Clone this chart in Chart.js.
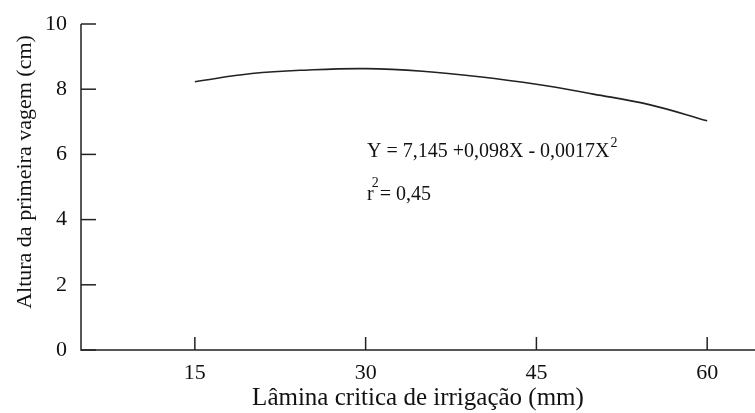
<!DOCTYPE html>
<html>
<head>
<meta charset="utf-8">
<script src="https://cdn.jsdelivr.net/npm/chart.js@4/dist/chart.umd.min.js"></script>
<style>
  html, body { margin: 0; padding: 0; background: #fff; }
  #wrap { width: 755px; height: 413px; }
</style>
</head>
<body>
<div id="wrap"><canvas id="myChart" width="755" height="413"></canvas></div>
<script>
// values
var laminas = [15, 20, 25, 30, 35, 40, 45, 50, 55, 60];
var altura = [8.23, 8.48, 8.59, 8.63, 8.55, 8.38, 8.15, 7.85, 7.52, 7.03];
var xTicks = [15, 30, 45, 60];
var yTicks = [0, 2, 4, 6, 8, 10];

var serif = "'Liberation Serif', 'DejaVu Serif', serif";

var points = [];
for (var i = 0; i < laminas.length; i++) {
  points.push({ x: laminas[i], y: altura[i] });
}

// axes with inward tick marks, plus the texts
var inwardTicks = {
  id: 'inwardTicks',
  afterDraw: function(chart) {
    var c = chart.ctx;
    var xs = chart.scales.x, ys = chart.scales.y;
    var area = chart.chartArea;
    c.save();
    c.strokeStyle = '#222';
    c.lineWidth = 1.5;
    c.beginPath();
    c.moveTo(area.left, area.top);
    c.lineTo(area.left, area.bottom);
    c.lineTo(area.right, area.bottom);
    c.stroke();
    xTicks.forEach(function(v) {
      var px = xs.getPixelForValue(v);
      c.beginPath();
      c.moveTo(px, area.bottom);
      c.lineTo(px, area.bottom - 13);
      c.stroke();
    });
    yTicks.forEach(function(v) {
      var py = ys.getPixelForValue(v);
      c.beginPath();
      c.moveTo(area.left, py);
      c.lineTo(area.left + 15, py);
      c.stroke();
    });

    // y axis title
    c.fillStyle = '#111';
    c.save();
    c.translate(25, 172);
    c.rotate(-Math.PI / 2);
    c.textAlign = 'center';
    c.textBaseline = 'middle';
    c.font = '22px ' + serif;
    c.fillText('Altura da primeira vagem (cm)', 0, 0);
    c.restore();

    // equation text
    c.textBaseline = 'alphabetic';
    c.font = '20px ' + serif;
    var eq = 'Y = 7,145 +0,098X - 0,0017X';
    var x0 = 367, y0 = 157;
    c.fillText(eq, x0, y0);
    var w = c.measureText(eq).width;
    c.font = '14px ' + serif;
    c.fillText('2', x0 + w + 1, y0 - 10);
    c.font = '20px ' + serif;
    c.fillText('r', x0, 200);
    var rw = c.measureText('r').width;
    c.font = '14px ' + serif;
    c.fillText('2', x0 + rw - 2, 187);
    c.font = '20px ' + serif;
    c.fillText('= 0,45', x0 + rw + 6, 200);
    c.restore();
  }
};

var ctx = document.getElementById('myChart');

var myChart = new Chart(ctx, {
  type: 'line',
  data: {
    datasets: [{
      data: points,
      borderColor: '#222',
      borderWidth: 1.6,
      pointRadius: 0,
      tension: 0.4,
      fill: false
    }]
  },
  plugins: [inwardTicks],
  options: {
    responsive: false,
    animation: false,
    layout: { padding: { top: 24, right: 0, left: 0, bottom: 0 } },
    plugins: {
      legend: { display: false },
      tooltip: { enabled: false }
    },
    scales: {
      x: {
        type: 'linear',
        min: 5,
        max: 64.2,
        afterBuildTicks: function(scale) {
          scale.ticks = xTicks.map(function(v) { return { value: v }; });
        },
        afterFit: function(scale) {
          scale.height = 63;
          scale.paddingLeft = 0;
          scale.paddingRight = 0;
        },
        border: { display: false },
        grid: { display: false, drawTicks: false },
        ticks: {
          color: '#111',
          padding: 10,
          maxRotation: 0,
          font: { family: serif, size: 22 }
        },
        title: {
          display: true,
          text: 'Lâmina critica de irrigação (mm)',
          color: '#111',
          padding: { top: 0, bottom: 0 },
          font: { family: serif, size: 25 }
        }
      },
      y: {
        min: 0,
        max: 10,
        afterBuildTicks: function(scale) {
          scale.ticks = yTicks.map(function(v) { return { value: v }; });
        },
        afterFit: function(scale) {
          scale.width = 81;
          scale.paddingTop = 0;
          scale.paddingBottom = 0;
        },
        border: { display: false },
        grid: { display: false, drawTicks: false },
        ticks: {
          color: '#111',
          padding: 14,
          font: { family: serif, size: 22 }
        }
      }
    }
  }
});
</script>
</body>
</html>
